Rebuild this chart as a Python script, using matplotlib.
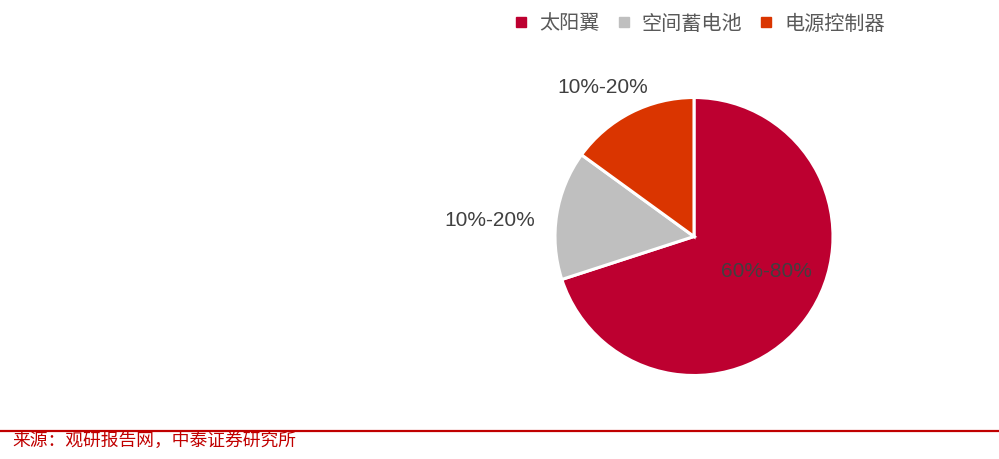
import matplotlib
matplotlib.use('Agg')
import matplotlib.pyplot as plt
from matplotlib.lines import Line2D

# 数据
categories = ['太阳翼', '空间蓄电池', '电源控制器']
shares = [70, 15, 15]
range_labels = ['60%-80%', '10%-20%', '10%-20%']
colors = ['#BD0030', '#BFBFBF', '#DA3500']
source = '来源：观研报告网，中泰证券研究所'

W, H = 999, 459
fig = plt.figure(figsize=(W / 100, H / 100), dpi=100)

# pie centre ~(694, 236.5) px, radius ~139 px
cx, cy, r = 694, 236.5, 139
ax = fig.add_axes([(cx - r) / W, (H - cy - r) / H, 2 * r / W, 2 * r / H])
wedges, _ = ax.pie(shares, colors=colors, startangle=90, counterclock=False,
                   wedgeprops=dict(edgecolor='white', linewidth=2.2))
ax.set_xlim(-1, 1)
ax.set_ylim(-1, 1)
ax.set_aspect('equal')
ax.axis('off')

# label positions (radius units, relative to centre)
label_pos = [(0.52, -0.255), (-1.47, 0.115), (-0.66, 1.075)]
for (lx, ly), txt in zip(label_pos, range_labels):
    ax.text(lx, ly, txt, ha='center', va='center', fontsize=15,
            family='Liberation Sans', color='#404040', clip_on=False)

# legend
handles = [Line2D([], [], marker='s', linestyle='none', markersize=6.5,
                  markerfacecolor=c, markeredgecolor=c) for c in colors]
leg = fig.legend(handles, categories, loc='center', bbox_to_anchor=(699 / W, 1 - 24 / H),
                 ncol=3, frameon=False, handlelength=0.8, handletextpad=0.5,
                 columnspacing=0.8, prop={'family': 'Noto Sans CJK SC', 'size': 14.5})
for t in leg.get_texts():
    t.set_color('#595959')

# bottom rule + source
fig.add_artist(Line2D([0, 1], [1 - 431 / H, 1 - 431 / H], color='#C00000', linewidth=1.6))
fig.text(12 / W, 1 - 441 / H, source, ha='left', va='center', fontsize=12.8,
         family='Noto Sans CJK SC', color='#C00000')

fig.savefig('out.png', dpi=100, facecolor='white')
